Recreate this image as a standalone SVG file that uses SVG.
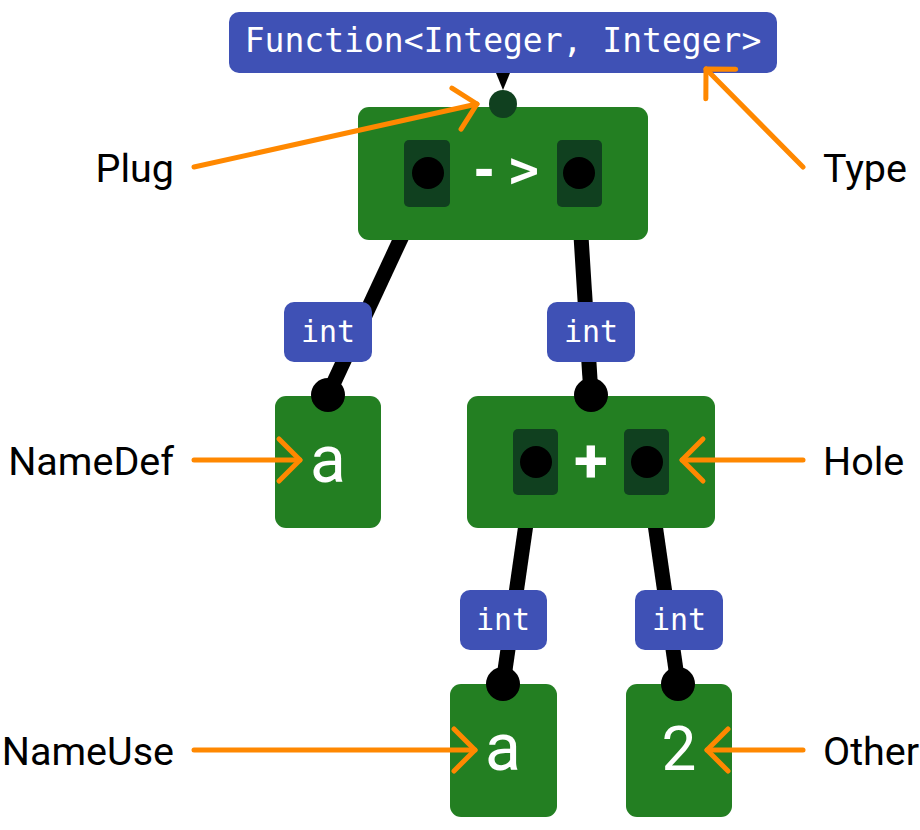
<svg xmlns="http://www.w3.org/2000/svg" width="920" height="830" viewBox="0 0 920 830">
<style>
.node{fill:#237f22}
.hole{fill:#10401f}
.dot{fill:#000}
.type{fill:#3f51b5}
.tt{fill:#fff;font-family:"DejaVu Sans Mono","Liberation Mono",monospace;text-anchor:middle}
.sym{fill:#fff;font-family:Roboto,"Liberation Sans",sans-serif;text-anchor:middle}
.edge{stroke:#000;stroke-width:15;fill:none}
.ann{stroke:#ff8800;stroke-width:5;fill:none;stroke-linecap:round}
.lab{fill:#000;font-family:Roboto,"Liberation Sans",sans-serif;font-size:39.5px}
</style>
<defs>
<marker id="chev" markerUnits="userSpaceOnUse" viewBox="-30 -30 40 60" markerWidth="40" markerHeight="60" refX="0" refY="0" orient="auto" overflow="visible">
<path d="M-21,-21 L0,0 L-21,21" fill="none" stroke="#ff8800" stroke-width="5" stroke-linecap="round" stroke-linejoin="round"/>
</marker>
</defs>
<rect width="920" height="830" fill="#fff"/>
<g id="connectors">
<line class="edge" x1="402" y1="236" x2="328" y2="395"/>
<line class="edge" x1="581" y1="236" x2="591" y2="395"/>
<line class="edge" x1="526" y1="524" x2="503" y2="684"/>
<line class="edge" x1="655" y1="524" x2="678" y2="684"/>
<polygon points="496,73 510,73 503,90" fill="#000"/>
</g>
<g id="type-root">
<rect class="type" x="229" y="12" width="548" height="61" rx="10"/>
<text class="tt" x="503" y="52" font-size="33">Function&lt;Integer, Integer&gt;</text>
</g>
<g id="node-lambda">
<rect class="node" x="358" y="107" width="290" height="133" rx="11"/>
<circle class="hole" cx="503" cy="104" r="14"/>
<rect class="hole" x="404" y="140" width="46" height="67" rx="5"/>
<rect class="hole" x="557" y="140" width="45" height="67" rx="5"/>
<circle class="dot" cx="428" cy="173" r="16"/>
<circle class="dot" cx="579" cy="173" r="16"/>
<text class="tt" x="509" y="187" font-size="50" font-weight="bold" letter-spacing="10">-&gt;</text>
</g>
<g id="node-namedef">
<rect class="node" x="275" y="396" width="106" height="132" rx="11"/>
<text class="sym" x="328" y="482" font-size="66">a</text>
</g>
<g id="node-plus">
<rect class="node" x="467" y="396" width="248" height="132" rx="11"/>
<rect class="hole" x="513" y="429" width="45" height="66" rx="5"/>
<rect class="hole" x="624" y="429" width="45" height="66" rx="5"/>
<circle class="dot" cx="536" cy="462" r="16"/>
<circle class="dot" cx="647" cy="462" r="16"/>
<text class="sym" x="591" y="482" font-size="62" font-weight="bold">+</text>
</g>
<g id="node-nameuse">
<rect class="node" x="450" y="684" width="107" height="133" rx="11"/>
<text class="sym" x="503" y="770" font-size="66">a</text>
</g>
<g id="node-other">
<rect class="node" x="626" y="684" width="106" height="133" rx="11"/>
<text class="sym" x="679" y="770" font-size="62">2</text>
</g>
<g id="type-labels">
<rect class="type" x="284" y="302" width="88" height="60" rx="10"/>
<text class="tt" x="328" y="342" font-size="30">int</text>
<rect class="type" x="547" y="302" width="88" height="60" rx="10"/>
<text class="tt" x="591" y="342" font-size="30">int</text>
<rect class="type" x="460" y="590" width="87" height="60" rx="10"/>
<text class="tt" x="503" y="630" font-size="30">int</text>
<rect class="type" x="635" y="590" width="88" height="60" rx="10"/>
<text class="tt" x="679" y="630" font-size="30">int</text>
</g>
<g id="plugs">
<circle class="dot" cx="328" cy="395" r="17"/>
<circle class="dot" cx="591" cy="395" r="17"/>
<circle class="dot" cx="503" cy="684" r="17"/>
<circle class="dot" cx="678" cy="684" r="17"/>
</g>
<g id="annotations">
<line class="ann" x1="194" y1="167" x2="477" y2="104" marker-end="url(#chev)"/>
<line class="ann" x1="803" y1="167" x2="706" y2="69" marker-end="url(#chev)"/>
<line class="ann" x1="194" y1="460" x2="300" y2="460" marker-end="url(#chev)"/>
<line class="ann" x1="803" y1="460" x2="682" y2="460" marker-end="url(#chev)"/>
<line class="ann" x1="194" y1="750" x2="475" y2="750" marker-end="url(#chev)"/>
<line class="ann" x1="803" y1="750" x2="707" y2="750" marker-end="url(#chev)"/>
<text class="lab" x="174" y="182" text-anchor="end">Plug</text>
<text class="lab" x="823" y="182">Type</text>
<text class="lab" x="174" y="475" text-anchor="end">NameDef</text>
<text class="lab" x="823" y="475">Hole</text>
<text class="lab" x="174" y="765" text-anchor="end">NameUse</text>
<text class="lab" x="823" y="765">Other</text>
</g>
</svg>
